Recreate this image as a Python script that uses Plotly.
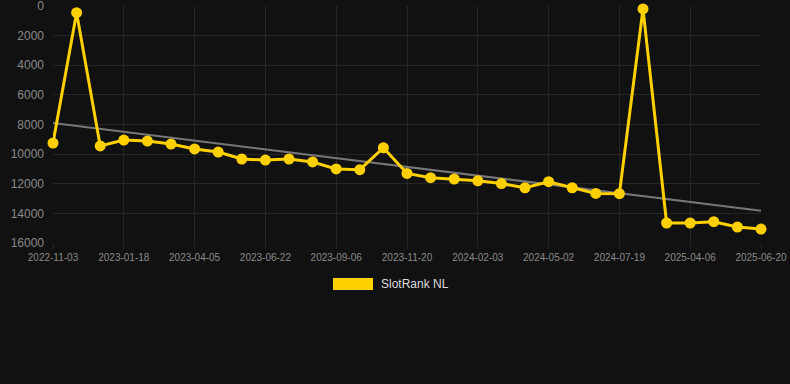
import plotly.graph_objects as go

dates = [
    "2022-11-03", "2022-11-28", "2022-12-23",
    "2023-01-18", "2023-02-13", "2023-03-10",
    "2023-04-05", "2023-04-30", "2023-05-27",
    "2023-06-22", "2023-07-17", "2023-08-11",
    "2023-09-06", "2023-10-01", "2023-10-26",
    "2023-11-20", "2023-12-15", "2024-01-09",
    "2024-02-03", "2024-03-03", "2024-04-02",
    "2024-05-02", "2024-05-28", "2024-06-23",
    "2024-07-19", "2024-08-13", "2025-03-11",
    "2025-04-06", "2025-05-01", "2025-05-26",
    "2025-06-20",
]
ranks = [
    9250, 450, 9450,
    9050, 9115, 9320,
    9650, 9860, 10330,
    10400, 10330, 10530,
    11000, 11050, 9570,
    11300, 11590, 11680,
    11800, 11990, 12270,
    11860, 12270, 12650,
    12670, 200, 14650,
    14650, 14560, 14920,
    15060,
]
trend_values = [7900, 13820]
tick_labels = dates[::3]
y_ticks = [0, 2000, 4000, 6000, 8000, 10000, 12000, 14000, 16000]
series_name = "SlotRank NL"

BG = "#111111"
GOLD = "#FFD000"
GRID = "#252525"
TICK = "#8a8a8a"

fig = go.Figure()
fig.add_trace(go.Scatter(
    x=[dates[0], dates[-1]], y=trend_values, mode="lines",
    line=dict(color="#777777", width=2), showlegend=False, hoverinfo="skip",
    cliponaxis=False,
))
fig.add_trace(go.Scatter(
    x=dates, y=ranks, mode="lines+markers", name=series_name,
    line=dict(color=GOLD, width=3),
    marker=dict(color=GOLD, size=11),
    showlegend=False, cliponaxis=False,
))

fig.update_layout(
    width=790, height=384,
    margin=dict(l=53, r=29, t=6, b=141, autoexpand=False),
    paper_bgcolor=BG, plot_bgcolor=BG,
    font=dict(family="Liberation Sans, Arial, sans-serif", color=TICK),
    xaxis=dict(
        type="category", categoryorder="array", categoryarray=dates,
        range=[0, len(dates) - 1], automargin=False,
        tickmode="array", tickvals=tick_labels, ticktext=tick_labels,
        tickfont=dict(size=10, color=TICK), tickangle=0,
        showgrid=True, gridcolor=GRID, gridwidth=1,
        ticks="outside", ticklen=5, tickcolor=GRID,
        showline=False, zeroline=False,
    ),
    yaxis=dict(
        range=[16000, 0], tickvals=y_ticks, ticktext=[str(v) for v in y_ticks],
        tickfont=dict(size=12, color=TICK), automargin=False,
        showgrid=True, gridcolor=GRID, gridwidth=1,
        zeroline=False, showline=False, ticks="", ticklabelstandoff=8,
        ticklabeloverflow="allow",
    ),
    showlegend=False,
)

# legend (chart.js style box + label)
fig.add_shape(type="rect", xref="paper", yref="paper",
              x0=(333 - 53) / 708, x1=(373 - 53) / 708,
              y0=(243 - 290) / 237, y1=(243 - 278) / 237,
              fillcolor=GOLD, line=dict(width=0))
fig.add_annotation(text=series_name, xref="paper", yref="paper",
                   x=(379 - 53) / 708, y=(243 - 284) / 237,
                   xanchor="left", yanchor="middle", showarrow=False,
                   font=dict(size=12, color="#dddddd"))

fig.write_html(
    "out.html",
    config={"displayModeBar": False},
    post_script="document.body.style.margin='0';document.body.style.background='#111111';document.body.style.overflow='hidden';",
)
